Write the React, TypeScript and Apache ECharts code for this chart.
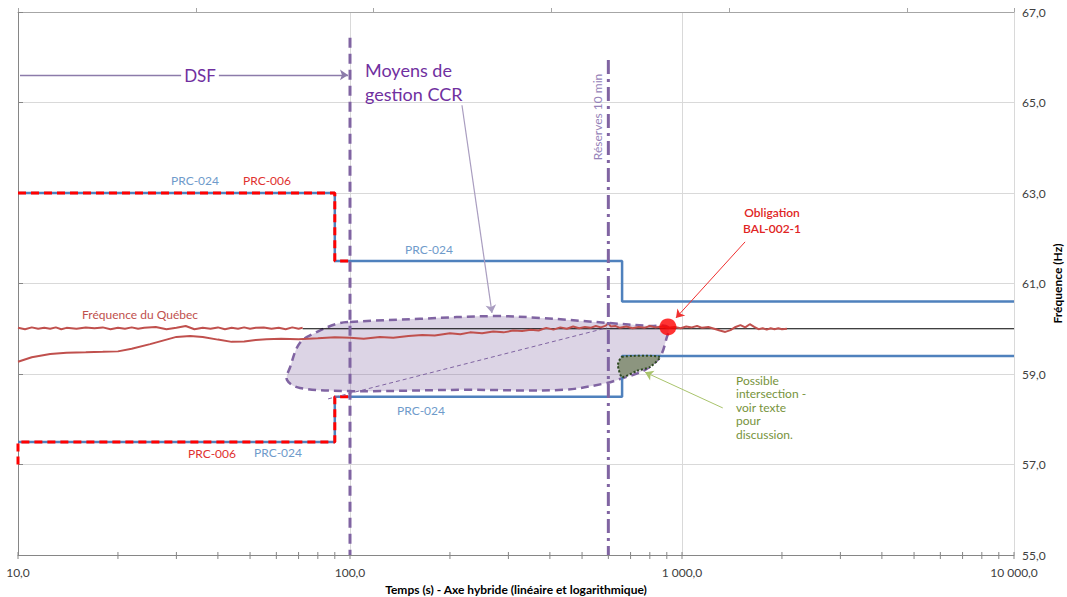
import React, { useEffect, useRef } from 'react';
import * as echarts from 'echarts';

// ---- Axis ticks / labels ----
const xTickValues = [10, 100, 1000, 10000];
const xTickLabels = ['10,0', '100,0', '1 000,0', '10 000,0'];
const xAxisTickMarks = [10, 20, 30, 40, 50, 60, 70, 80, 90, 100, 200, 300, 400, 500, 600, 700, 800, 900, 1000, 2000, 3000, 4000, 5000, 6000, 7000, 8000, 9000, 10000];
const yTickValues = [55, 57, 59, 61, 63, 65, 67];
const yTickLabels = ['55,0', '57,0', '59,0', '61,0', '63,0', '65,0', '67,0'];

// ---- Limits (time s, frequency Hz) ----
const prc024UpperT = [10, 90, 90, 660, 660, 10000];
const prc024UpperF = [63, 63, 61.5, 61.5, 60.6, 60.6];
const prc024LowerT = [10, 90, 90, 660, 660, 10000];
const prc024LowerF = [57.5, 57.5, 58.5, 58.5, 59.4, 59.4];
const prc006UpperT = [10, 90, 90, 100];
const prc006UpperF = [63, 63, 61.5, 61.5];
const prc006LowerT = [10, 10, 90, 90, 100];
const prc006LowerF = [57, 57.5, 57.5, 58.5, 58.5];
const nominalT = [72, 10000];
const nominalF = [60, 60];

// ---- Fréquence du Québec (two traces) ----
const quebecAT = [10, 10.5, 11, 11.5, 12, 12.5, 13, 13.5, 14, 15, 16, 17, 18, 19, 20, 21, 22, 23, 24, 26, 28, 30, 32, 34, 36, 38, 40, 42, 44, 46, 48, 50, 52, 55, 58, 61, 64, 67, 70, 72];
const quebecAF = [60.02, 59.99, 60.03, 60.0, 60.02, 60.0, 60.03, 59.99, 60.02, 60.0, 60.03, 60.01, 60.03, 59.99, 60.02, 60.0, 60.03, 60.0, 60.02, 60.04, 59.99, 60.02, 60.06, 59.99, 60.02, 60.0, 60.03, 59.99, 60.02, 60.0, 60.03, 60.0, 60.02, 60.03, 60.0, 60.02, 59.99, 60.03, 60.0, 60.02];
const quebecBT = [10, 11, 12.5, 14, 16, 18, 20, 22, 25, 28, 30, 33, 36, 40, 44, 48, 52, 56, 62, 70, 80, 90, 100, 110, 123, 135, 150, 165, 180, 200, 215, 230, 250, 270, 290, 310, 330, 350, 370, 390, 410, 430, 450, 470, 490, 510, 530, 550, 570, 590, 600, 610, 630, 650, 680, 710, 740, 770, 800, 830, 870, 910, 950, 990, 1030, 1070, 1110, 1150, 1200, 1250, 1300, 1350, 1400, 1450, 1500, 1550, 1600, 1650, 1700, 1750, 1800, 1850, 1900, 1950, 2000, 2070];
const quebecBF = [59.27, 59.37, 59.44, 59.47, 59.48, 59.49, 59.5, 59.56, 59.66, 59.76, 59.82, 59.84, 59.82, 59.76, 59.71, 59.72, 59.75, 59.77, 59.78, 59.77, 59.79, 59.81, 59.8, 59.78, 59.82, 59.8, 59.84, 59.86, 59.85, 59.9, 59.88, 59.92, 59.9, 59.94, 59.92, 59.96, 59.95, 59.98, 59.96, 60.02, 59.98, 60.03, 60.0, 60.05, 60.01, 60.04, 60.02, 60.06, 60.03, 60.07, 60.12, 60.05, 60.06, 60.02, 60.05, 60.01, 60.04, 60.02, 60.06, 60.03, 60.05, 60.02, 60.04, 60.01, 60.05, 60.03, 60.06, 60.02, 60.04, 60.0, 59.96, 59.93, 59.97, 60.04, 60.08, 60.03, 60.1, 60.04, 59.99, 60.01, 59.98, 60.01, 59.99, 60.01, 59.99, 60.0];

// ---- Zones ----
const ccrZoneT = [100, 162.5, 269.7, 373.5, 594, 801, 907, 895, 858, 774, 650.6, 594, 438, 219, 117.3, 100, 70.7, 64.6, 66, 70.7, 79.6, 91.4];
const ccrZoneF = [60.15, 60.22, 60.28, 60.24, 60.13, 60.06, 60.04, 59.75, 59.38, 59.09, 58.89, 58.8, 58.65, 58.65, 58.62, 58.62, 58.69, 58.87, 59.15, 59.69, 59.93, 60.11];
const intersectT = [659.6, 858, 801, 732, 659.6, 641];
const intersectF = [59.38, 59.38, 59.155, 59.07, 58.93, 59.2];

// ---- Reference lines and annotations ----
const dsfLineT = [100, 100];
const dsfLineF = [66.43, 55];
const reserveLineT = [600, 600];
const reserveLineF = [65.94, 55];
const diagonalT = [85.9, 594];
const diagonalF = [58.45, 60.02];
const obligationPoint = [907, 60.04];
const arrowDsf = [[10.14, 65.61], [98.6, 65.61]];
const arrowCcr = [[217.4, 64.94], [267.7, 60.35]];
const arrowObligation = [[1549, 61.92], [959, 60.24]];
const arrowIntersect = [[1327, 58.25], [774, 59.04]];

const zip = (t: number[], f: number[]) => t.map((v, i) => [v, f[i]]);

const FONT = 'Lato, "Open Sans", sans-serif';

function lineSeries(name: string, t: number[], f: number[], color: string, width: number, type: any, z = 3, extra: any = {}) {
  return {
    name,
    type: 'line',
    data: zip(t, f),
    symbol: 'none',
    silent: true,
    z,
    lineStyle: { color, width, type, cap: 'butt' },
    ...extra,
  };
}

export default function App() {
  const ref = useRef<HTMLDivElement>(null);
  useEffect(() => {
    if (!ref.current) return;
    const chart = echarts.init(ref.current, undefined, { renderer: 'svg' });
    const arrowItem = (pts: number[][], color: string, width: number) => [
      { coord: pts[0], lineStyle: { color, width, type: 'solid' } },
      { coord: pts[1] },
    ];
    const txt = (text: string, x: number, y: number, fill: string, size: number, opts: any = {}) => ({
      type: 'text',
      x,
      y,
      z: 50,
      rotation: opts.rotation || 0,
      style: {
        text,
        fill,
        fontSize: size,
        fontFamily: FONT,
        fontWeight: opts.weight || 'normal',
        align: opts.align || 'center',
        verticalAlign: 'middle',
        lineHeight: opts.lineHeight,
        backgroundColor: opts.bg,
        padding: opts.bg ? [0, 3] : 0,
      },
    });

    chart.setOption({
      animation: false,
      backgroundColor: '#ffffff',
      textStyle: { fontFamily: FONT },
      grid: { left: 18, right: 53, top: 12, bottom: 42, containLabel: false, outerBoundsMode: 'none' },
      xAxis: [
        {
          type: 'log',
          logBase: 10,
          min: 10,
          max: 10000,
          position: 'bottom',
          name: 'Temps (s) - Axe hybride (linéaire et logarithmique)',
          nameLocation: 'middle',
          nameGap: 28,
          nameMoveOverlap: false,
          nameTextStyle: { fontSize: 12, fontWeight: 'bold', color: '#000', fontFamily: FONT },
          axisLine: { show: true, lineStyle: { color: '#868686', width: 1 } },
          axisTick: { show: false },
          axisLabel: {
            fontSize: 12,
            color: '#404040',
            margin: 11,
            formatter: (v: number) => {
              const i = xTickValues.indexOf(Math.round(v));
              return i >= 0 ? xTickLabels[i] : '';
            },
          },
          splitLine: { show: true, lineStyle: { color: '#D9D9D9', width: 1 } },
          minorTick: { show: false },
        },
        {
          type: 'value',
          position: 'top',
          min: 0,
          max: 5.6,
          interval: 1,
          axisLine: { show: true, lineStyle: { color: '#A6A6A6' } },
          axisTick: { show: true, length: 4, lineStyle: { color: '#A6A6A6' } },
          axisLabel: { show: false },
          splitLine: { show: false },
        },
      ],
      yAxis: {
        type: 'value',
        position: 'right',
        min: 55,
        max: 67,
        interval: 2,
        name: 'Fréquence (Hz)',
        nameLocation: 'middle',
        nameGap: 37,
        nameMoveOverlap: false,
        nameTextStyle: { fontSize: 12, fontWeight: 'bold', color: '#000', fontFamily: FONT },
        axisLine: { show: true, lineStyle: { color: '#868686' } },
        axisTick: { show: true, length: 5, lineStyle: { color: '#868686' } },
        axisLabel: {
          fontSize: 12,
          color: '#404040',
          margin: 8,
          formatter: (v: number) => {
            const i = yTickValues.indexOf(Math.round(v));
            return i >= 0 ? yTickLabels[i] : '';
          },
        },
        splitLine: { show: true, lineStyle: { color: '#D9D9D9' } },
      },
      series: [
        {
          type: 'custom',
          name: 'ticks',
          silent: true,
          clip: false,
          z: 1,
          data: xAxisTickMarks.map((t) => [t, 55]),
          encode: { x: 0, y: 1 },
          renderItem: (params: any, api: any) => {
            const p = api.coord([api.value(0), api.value(1)]);
            return {
              type: 'line',
              shape: { x1: p[0], y1: p[1] - 3, x2: p[0], y2: p[1] + 4 },
              style: { stroke: '#868686', lineWidth: 1 },
            };
          },
        },
        {
          type: 'custom',
          name: 'Moyens de gestion CCR',
          silent: true,
          z: 2,
          data: zip(ccrZoneT, ccrZoneF),
          encode: { x: 0, y: 1 },
          renderItem: (params: any, api: any) => {
            if (params.dataIndex !== 0) return null;
            const pts = ccrZoneT.map((t, i) => api.coord([t, ccrZoneF[i]]));
            return {
              type: 'polygon',
              shape: { points: pts, smooth: 0.35 },
              style: { fill: 'rgba(128,100,162,0.28)', stroke: '#8064A2', lineWidth: 2.5, lineDash: [8, 5] },
            };
          },
        },
        {
          type: 'custom',
          name: 'Possible intersection',
          silent: true,
          z: 6,
          data: zip(intersectT, intersectF),
          encode: { x: 0, y: 1 },
          renderItem: (params: any, api: any) => {
            if (params.dataIndex !== 0) return null;
            const pts = intersectT.map((t, i) => api.coord([t, intersectF[i]]));
            return {
              type: 'polygon',
              shape: { points: pts, smooth: 0.2 },
              style: { fill: '#8C957F', stroke: '#2E4A22', lineWidth: 2, lineDash: [2, 2] },
            };
          },
        },
        lineSeries('PRC-024 haut', prc024UpperT, prc024UpperF, '#4F81BD', 2.5, 'solid', 3),
        lineSeries('PRC-024 bas', prc024LowerT, prc024LowerF, '#4F81BD', 2.5, 'solid', 3),
        lineSeries('PRC-006 haut', prc006UpperT, prc006UpperF, '#FF0000', 3, [8, 5], 4),
        lineSeries('PRC-006 bas', prc006LowerT, prc006LowerF, '#FF0000', 3, [8, 5], 4),
        lineSeries('60 Hz', nominalT, nominalF, '#000000', 1, 'solid', 3, {
          markLine: {
            silent: true,
            symbol: ['none', 'arrow'],
            symbolSize: 8,
            label: { show: false },
            emphasis: { disabled: true },
            data: [
              arrowItem(arrowDsf, '#8C7BAA', 1.3),
              arrowItem(arrowCcr, '#A99DC0', 1.2),
              arrowItem(arrowObligation, '#F03030', 1),
              arrowItem(arrowIntersect, '#A9C46C', 1),
            ],
          },
        }),
        lineSeries('Fréquence du Québec A', quebecAT, quebecAF, '#C0504D', 2, 'solid', 5),
        lineSeries('Fréquence du Québec B', quebecBT, quebecBF, '#C0504D', 2, 'solid', 5),
        lineSeries('Diagonale', diagonalT, diagonalF, '#8064A2', 1, [4, 3], 5),
        lineSeries('DSF', dsfLineT, dsfLineF, '#8064A2', 3, [10, 6], 7),
        lineSeries('Réserves 10 min', reserveLineT, reserveLineF, '#8064A2', 3, [14, 5, 3, 5], 7),
        {
          type: 'scatter',
          name: 'Obligation BAL-002-1',
          data: [obligationPoint],
          symbol: 'circle',
          symbolSize: 17,
          silent: true,
          z: 8,
          itemStyle: { color: '#FF0000' },
        },
      ],
      graphic: [
        txt('DSF', 200, 75, '#7030A0', 17, { bg: '#ffffff' }),
        txt('Moyens de\ngestion CCR', 365, 82, '#7030A0', 18, { align: 'left', lineHeight: 24 }),
        txt('Réserves 10 min', 597, 117, '#9582B8', 12, { rotation: Math.PI / 2 }),
        txt('PRC-024', 195, 180, '#6F9BCB', 12),
        txt('PRC-006', 267, 180, '#E0312F', 12),
        txt('PRC-024', 429, 249, '#6F9BCB', 12),
        txt('Fréquence du Québec', 140, 314, '#C0504D', 12),
        txt('PRC-024', 421, 410, '#6F9BCB', 12),
        txt('PRC-006', 212, 453, '#E0312F', 12),
        txt('PRC-024', 278, 452, '#6F9BCB', 12),
        txt('Obligation\nBAL-002-1', 772, 220, '#E02424', 12, { weight: 600, lineHeight: 16 }),
        txt('Possible\nintersection -\nvoir texte\npour\ndiscussion.', 736, 407, '#77933C', 12, { align: 'left', lineHeight: 13.5 }),
      ],
    });
    return () => chart.dispose();
  }, []);
  return (
    <div
      ref={ref}
      style={{ position: 'absolute', left: 0, top: 0, width: 1067, height: 597, background: '#fff' }}
    />
  );
}
